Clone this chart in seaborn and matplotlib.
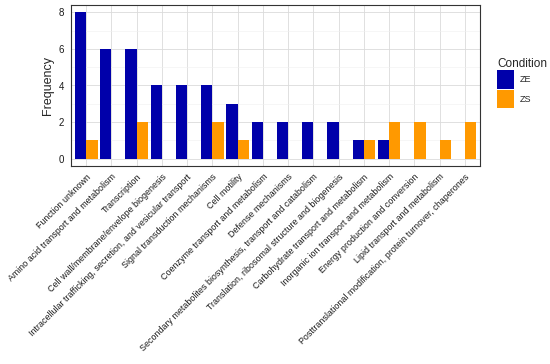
import pandas as pd
import numpy as np
import matplotlib.pyplot as plt
import seaborn as sns
from matplotlib.ticker import MultipleLocator
from matplotlib.patches import Patch

# COG categories and counts per condition
categories = [
    'Function unknown',
    'Amino acid transport and metabolism',
    'Transcription',
    'Cell wall/membrane/envelope biogenesis',
    'Intracellular trafficking, secretion, and vesicular transport',
    'Signal transduction mechanisms',
    'Cell motility',
    'Coenzyme transport and metabolism',
    'Defense mechanisms',
    'Secondary metabolites biosynthesis, transport and catabolism',
    'Translation, ribosomal structure and biogenesis',
    'Carbohydrate transport and metabolism',
    'Inorganic ion transport and metabolism',
    'Energy production and conversion',
    'Lipid transport and metabolism',
    'Posttranslational modification, protein turnover, chaperones',
]
ze_counts = [8, 6, 6, 4, 4, 4, 3, 2, 2, 2, 2, 1, 1, 0, 0, 0]
zs_counts = [1, 0, 2, 0, 0, 2, 1, 0, 0, 0, 0, 1, 2, 2, 1, 2]
conditions = ['ZE', 'ZS']
colors = ['#0000AA', '#FF9900']

df = pd.DataFrame({
    'Category': categories * 2,
    'Frequency': ze_counts + zs_counts,
    'Condition': ['ZE'] * len(categories) + ['ZS'] * len(categories),
})

sns.set_style('white')
plt.rcParams['font.family'] = ['Liberation Sans', 'DejaVu Sans']

fig = plt.figure(figsize=(5.5, 3.64), dpi=100)
ax = fig.add_axes([71 / 550, 1 - 166 / 364, (480 - 71) / 550, (166 - 5) / 364])

sns.barplot(data=df, x='Category', y='Frequency', hue='Condition',
            order=categories, hue_order=conditions, palette=colors,
            width=0.9, gap=0, saturation=1, edgecolor='none', ax=ax,
            legend=False)

ax.set_xlim(-0.6, len(categories) - 0.4)
ax.set_ylim(-0.4, 8.4)
ax.yaxis.set_major_locator(MultipleLocator(2))
ax.yaxis.set_minor_locator(MultipleLocator(1))
ax.set_axisbelow(True)
ax.grid(which='major', color='#DBDBDB', linewidth=0.6)
ax.grid(which='minor', axis='y', color='#EFEFEF', linewidth=0.4)
for s in ax.spines.values():
    s.set_color('#333333')
    s.set_linewidth(0.8)

ax.tick_params(axis='both', which='major', length=3, width=0.6, color='#333333',
               labelsize=7, labelcolor='#1A1A1A', pad=2)
ax.tick_params(axis='x', labelsize=6.4, pad=1.5)
ax.tick_params(axis='y', which='minor', length=0)
ax.set_xticks(range(len(categories)))
ax.set_xticklabels(categories, rotation=45, ha='right', rotation_mode='anchor')
ax.set_xlabel('')
ax.set_ylabel('Frequency', fontsize=9, labelpad=3)

handles = [Patch(facecolor=c, edgecolor='none') for c in colors]
fig.legend(handles, conditions, title='Condition', loc='upper left',
           bbox_to_anchor=(497 / 550, 1 - 58 / 364), frameon=False,
           borderpad=0, borderaxespad=0,
           fontsize=6.5, title_fontsize=8.5, handlelength=1.9, handleheight=2.8,
           handletextpad=0.6, labelspacing=0.05, alignment='left')

fig.savefig('out.png', dpi=100)
